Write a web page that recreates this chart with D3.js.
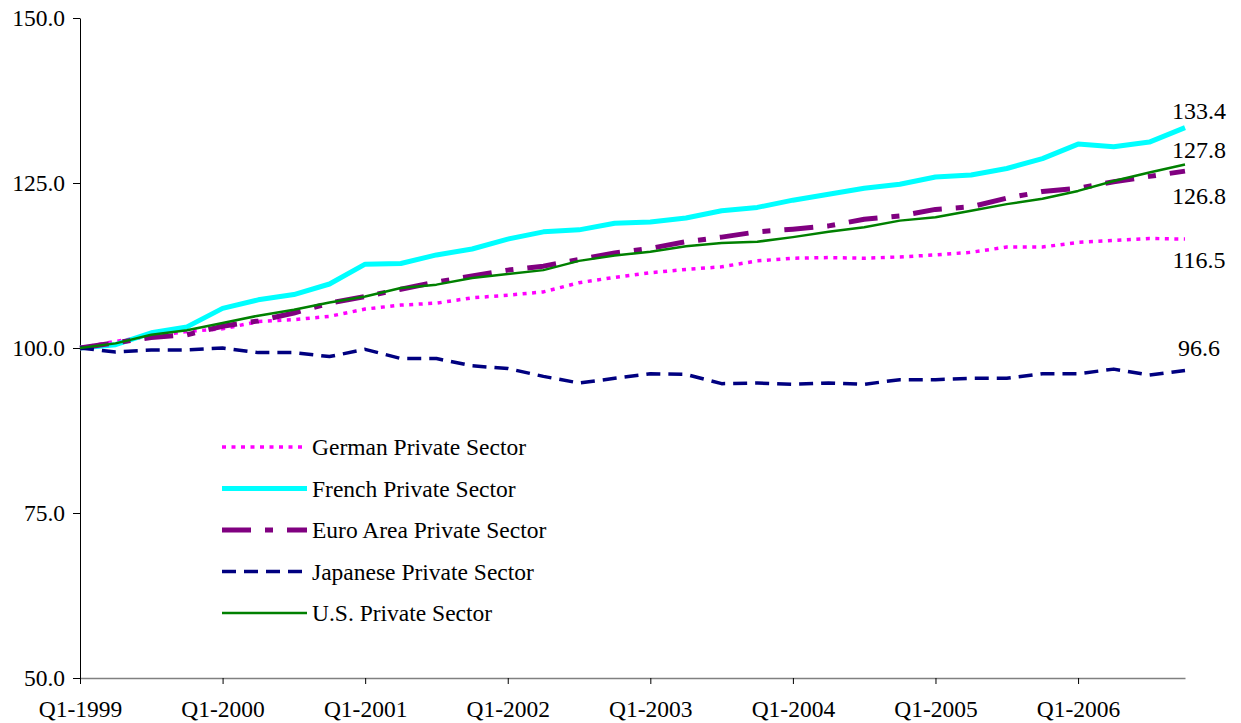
<!DOCTYPE html>
<html>
<head>
<meta charset="utf-8">
<script src="https://cdn.jsdelivr.net/npm/d3@7"></script>
<style>
  body { margin: 0; background: #fff; }
  svg { display: block; font-family: 'Liberation Serif', 'Times New Roman', serif; }
  .axis text { font-family: 'Liberation Serif', 'Times New Roman', serif; font-size: 23.5px; fill: #000; }
  .line { fill: none; stroke-linejoin: round; }
</style>
</head>
<body>
<svg width="1241" height="723"></svg>
<script>
var quarters = [
  'Q1-1999', 'Q2-1999', 'Q3-1999', 'Q4-1999',
  'Q1-2000', 'Q2-2000', 'Q3-2000', 'Q4-2000',
  'Q1-2001', 'Q2-2001', 'Q3-2001', 'Q4-2001',
  'Q1-2002', 'Q2-2002', 'Q3-2002', 'Q4-2002',
  'Q1-2003', 'Q2-2003', 'Q3-2003', 'Q4-2003',
  'Q1-2004', 'Q2-2004', 'Q3-2004', 'Q4-2004',
  'Q1-2005', 'Q2-2005', 'Q3-2005', 'Q4-2005',
  'Q1-2006', 'Q2-2006', 'Q3-2006', 'Q4-2006',
];
var xTicks = ['Q1-1999', 'Q1-2000', 'Q1-2001', 'Q1-2002', 'Q1-2003', 'Q1-2004', 'Q1-2005', 'Q1-2006'];
var yTicks = [50, 75, 100, 125, 150];

var german = [100, 101.0, 101.8, 102.5, 102.9, 104.0, 104.3, 104.8, 105.9, 106.5, 106.8, 107.6, 108.0, 108.5, 109.9, 110.7,
  111.4, 111.9, 112.3, 113.2, 113.6, 113.7, 113.6, 113.8, 114.1, 114.5, 115.3, 115.3, 116.0, 116.3, 116.6, 116.5];
var french = [100, 100.5, 102.3, 103.2, 106.0, 107.3, 108.1, 109.7, 112.7, 112.8, 114.1, 115.0, 116.5, 117.6, 117.9, 118.9,
  119.1, 119.7, 120.8, 121.3, 122.4, 123.3, 124.2, 124.8, 125.9, 126.2, 127.2, 128.7, 130.9, 130.5, 131.2, 133.4];
var euro = [100, 100.8, 101.6, 102.0, 103.3, 104.1, 105.3, 106.8, 107.8, 108.9, 110.0, 110.9, 111.8, 112.4, 113.4, 114.4,
  115.1, 116.1, 116.8, 117.6, 118.0, 118.5, 119.5, 120.0, 121.0, 121.4, 122.7, 123.7, 124.2, 125.2, 126.0, 126.8];
var japanese = [100, 99.4, 99.7, 99.7, 100.0, 99.3, 99.3, 98.7, 99.8, 98.4, 98.4, 97.3, 96.9, 95.7, 94.7, 95.4,
  96.1, 96.0, 94.6, 94.7, 94.5, 94.7, 94.5, 95.2, 95.2, 95.4, 95.4, 96.1, 96.1, 96.8, 95.9, 96.6];
var us = [100, 100.7, 102.0, 102.7, 103.8, 104.9, 105.8, 106.9, 107.8, 109.1, 109.6, 110.6, 111.2, 111.8, 113.2, 114.0,
  114.6, 115.4, 115.9, 116.1, 116.8, 117.6, 118.3, 119.3, 119.8, 120.8, 121.8, 122.6, 123.8, 125.3, 126.6, 127.8];

var seriesNames = ['German Private Sector', 'French Private Sector', 'Euro Area Private Sector', 'Japanese Private Sector', 'U.S. Private Sector'];
var seriesValues = [german, french, euro, japanese, us];

// styles, in the same order as the series
var colors = ['#FF00FF', '#00FFFF', '#800080', '#000080', '#008000'];
var widths = [3.5, 5, 5, 3.5, 2.5];
var dashes = ['4,5.5', null, '29,14,8,14', '14,8', null];
var endLabelDy = [29, -9, 33, -14, -7];

var svg = d3.select('svg');

var x = d3.scalePoint().domain(quarters).range([80, 1185]),
  y = d3.scaleLinear().domain([50, 150]).range([678, 18]);

var line = d3
  .line()
  .x(function(d, i) {
    return x(quarters[i]);
  })
  .y(function(d) {
    return y(d);
  });

// x axis
var xAxis = svg
  .append('g')
  .attr('class', 'axis axis--x')
  .attr('transform', 'translate(0,678)')
  .call(d3.axisBottom(x).tickValues(xTicks).tickSize(6).tickSizeOuter(0).tickPadding(16));
xAxis.select('.domain').attr('stroke', '#808080').attr('stroke-width', 1.5);
xAxis.selectAll('.tick line').attr('stroke', '#000');

// y axis
var yAxis = svg
  .append('g')
  .attr('class', 'axis axis--y')
  .attr('transform', 'translate(80,0)')
  .call(d3.axisLeft(y).tickValues(yTicks).tickFormat(d3.format('.1f')).tickSize(7).tickSizeOuter(0).tickPadding(8));
yAxis.select('.domain').attr('stroke', '#000');

var series = seriesNames.map(function(name, i) {
  return {name: name, values: seriesValues[i], idx: i};
});

svg
  .selectAll('.line')
  .data(series)
  .enter()
  .append('path')
  .attr('class', 'line')
  .attr('d', function(d) {
    return line(d.values);
  })
  .style('stroke', d => colors[d.idx])
  .style('stroke-width', d => widths[d.idx])
  .style('stroke-dasharray', d => dashes[d.idx]);

// end labels
svg
  .selectAll('.end-label')
  .data(series)
  .enter()
  .append('text')
  .attr('class', 'end-label')
  .attr('x', 1199)
  .attr('y', d => y(d.values[d.values.length - 1]) + endLabelDy[d.idx])
  .attr('text-anchor', 'middle')
  .style('font-size', '24px')
  .text(d => d3.format('.1f')(d.values[d.values.length - 1]));

// legend
var legend = svg
  .selectAll('.legend')
  .data(series)
  .enter()
  .append('g')
  .attr('class', 'legend')
  .attr('transform', (d, i) => 'translate(222,' + (447 + i * 41.5) + ')');

legend
  .append('line')
  .attr('x1', 0)
  .attr('x2', 85)
  .style('stroke', d => colors[d.idx])
  .style('stroke-width', d => widths[d.idx])
  .style('stroke-dasharray', d => dashes[d.idx]);

legend
  .append('text')
  .attr('x', 90)
  .attr('y', 8)
  .style('font-size', '23.5px')
  .text(d => d.name);
</script>
</body>
</html>
